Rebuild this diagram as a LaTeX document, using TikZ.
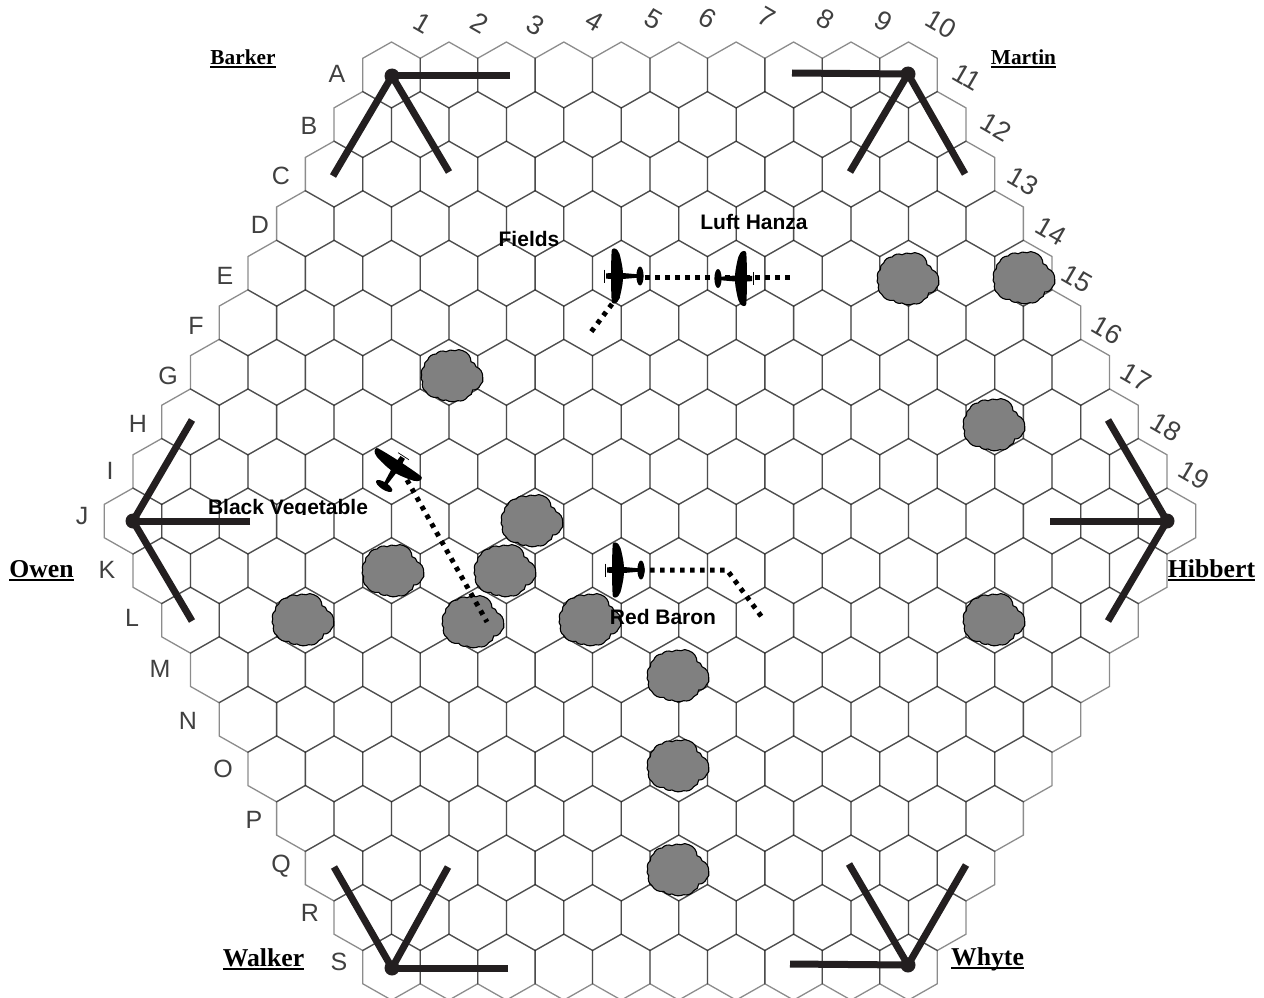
\documentclass[tikz,border=0pt]{standalone}
\usepackage{fontspec}
\setmainfont{Liberation Serif}
\newfontfamily\lsans{Liberation Sans}
\newcommand\undertext[3]{\setbox0\hbox{#3}\rlap{\rule[-#1]{\wd0}{#2}}\box0}
\definecolor{ink}{HTML}{231F20}
\definecolor{cloudgrey}{HTML}{808080}
\definecolor{mapgrey}{HTML}{404040}
\tikzset{
  x=1pt,y=-1pt,
  hexline/.style={draw=black,draw opacity=.45,line width=1.3pt,line join=miter},
  arm/.style={draw=ink,line width=7pt},
  hubdot/.style={fill=ink},
  dotted path/.style={draw=black,line width=5pt,dash pattern=on 4.5pt off 5.5pt},
  rowletter/.style={font=\lsans\fontsize{25}{25}\selectfont,text=mapgrey,inner sep=0pt},
  colnumber/.style={font=\lsans\fontsize{27}{27}\selectfont,text=mapgrey,rotate=-30,inner sep=0pt},
  small owner/.style={font=\fontsize{21.3}{22}\selectfont\bfseries,anchor=base,inner sep=0pt},
  big owner/.style={font=\fontsize{25.7}{26}\selectfont\bfseries,anchor=base,inner sep=0pt},
  pilot/.style={font=\lsans\fontsize{21}{22}\selectfont\bfseries,anchor=base,inner sep=0pt},
  cloud pic/.pic={
    \draw[fill=cloudgrey,draw=black,line width=1.1pt]
      (-27.7,-9.3) to[bend left=35] (-24.3,-16) to[bend left=35] (-16,-22)
      to[bend left=35] (-6,-24.3) to[bend left=25] (3,-25.3) to[bend left=30] (10.7,-25.3)
      to[bend left=35] (19,-14.3) to[bend left=35] (24,-9.3) to[bend left=35] (30.7,1.3)
      to[bend left=35] (28.3,9) to[bend left=35] (20.7,14) to[bend left=35] (15.7,20.7)
      to[bend left=35] (5.7,24.7) to[bend left=25] (-6,24) to[bend left=35] (-14.3,21.3)
      to[bend left=35] (-26,15.7) to[bend left=35] (-29.3,5.7) to[bend left=35] (-30.3,-1)
      to[bend left=35] cycle;
  },
  plane pic/.pic={
    \fill[black] plot[smooth cycle,tension=.6] coordinates
      {(-5.5,-22) (-4.5,-27) (-1,-27) (2.5,-22) (5.5,-8) (6,0) (5.5,8) (2.5,22) (-1,27) (-4.5,27) (-5.5,22) (-6,0)};
    \fill[black] (-11,-2.6) -- (0,-3.5) -- (22,-1.6) -- (22,1.6) -- (0,3.5) -- (-11,2.6) -- cycle;
    \fill[black] (23,0) ellipse [x radius=3.6,y radius=9.5];
    \draw[black,line width=.7pt] (-12.5,-6.5) -- (-12.5,6.5);
  },
}
\begin{document}
\begin{tikzpicture}
\useasboundingbox (0,0) rectangle (1264,998);
% hex field
\foreach \r in {0,...,18}{
  \pgfmathtruncatemacro\n{10+min(\r,18-\r)}
  \pgfmathsetmacro\y{75+49.56*\r}
  \pgfmathsetmacro\xs{650-(\n-1)*28.72}
  \foreach \c in {1,...,\n}{
    \pgfmathsetmacro\x{\xs+(\c-1)*57.44}
    \draw[hexline] (\x,\y-33) -- (\x+28.72,\y-16.7) -- (\x+28.72,\y+16.7) -- (\x,\y+33)
      -- (\x-28.72,\y+16.7) -- (\x-28.72,\y-16.7) -- cycle;
  }
}
% row letters
\foreach \t/\x/\y in {A/337/74,B/309/126,C/281/176,D/260/225,E/225/276,F/196/326,G/168/376,H/138/424,I/110/471,J/82/516,K/107/570,L/132/618,M/160/669,N/188/721,O/223/769,P/254/820,Q/281/866,R/310/913,S/339/962}
  \node[rowletter] (row\t) at (\x,\y) {\t};
% column numbers
\foreach \t/\x/\y in {1/423/23,2/480/23,3/536/25,4/595/21,5/654/19,6/708/18,7/767/17,8/826/19,9/884/21,10/941/24,11/967/77,12/996/127,13/1023/181,14/1051/231,15/1077/279,16/1107/330,17/1136/377,18/1166/427,19/1194/475}
  \node[colnumber] (col\t) at (\x,\y) {\t};
% clouds
\foreach \x/\y in {908/279,1024/278,452/376,994/425,532/521,393/571,505/571,303/620,473/622,590/620,994/620,678/676,678/766,678/870}
  \pic at (\x,\y) {cloud pic};
% firing arcs
\coordinate (hubB) at (392,76);  \coordinate (b1) at (510,76);  \coordinate (b2) at (333,176); \coordinate (b3) at (449,172);
\coordinate (hubM) at (908,74);  \coordinate (m1) at (792,73);  \coordinate (m2) at (850,172); \coordinate (m3) at (965,174);
\coordinate (hubO) at (133,521); \coordinate (o1) at (250,521); \coordinate (o2) at (192,420); \coordinate (o3) at (192,621);
\coordinate (hubH) at (1167,521);\coordinate (h1) at (1050,521);\coordinate (h2) at (1108,420);\coordinate (h3) at (1108,621);
\coordinate (hubW) at (392,968); \coordinate (w1) at (508,968); \coordinate (w2) at (334,867); \coordinate (w3) at (448,867);
\coordinate (hubY) at (908,965); \coordinate (y1) at (790,964); \coordinate (y2) at (849,864); \coordinate (y3) at (966,865);
\foreach \h/\e in {B/b,M/m,O/o,H/h,W/w,Y/y}{
  \draw[arm] (\e1) -- (hub\h);
  \draw[arm] (\e2) -- (hub\h);
  \draw[arm] (\e3) -- (hub\h);
  \fill[hubdot] (hub\h) circle (7.5);
}
% flight paths
\coordinate (fA) at (618,296); \coordinate (fB) at (588,336);
\coordinate (fC) at (645,277); \coordinate (fD) at (795,277);
\coordinate (rA) at (640,570); \coordinate (rB) at (727,570); \coordinate (rC) at (764,620);
\coordinate (vA) at (407,480); \coordinate (vB) at (487,622);
\draw[dotted path] (fA) -- (fB);
\draw[dotted path] (fC) -- (fD);
\draw[dotted path] (rA) -- (rB) -- (rC);
\draw[dotted path] (vA) -- (vB);
% aeroplanes
\pic at (617,276) {plane pic};
\pic[xscale=-1] at (741,278.5) {plane pic};
\pic at (618,570) {plane pic};
\pic[rotate=-123] at (396.7,466.7) {plane pic};
% pilots
\node[pilot] (fields) at (529,246) {Fields};
\node[pilot] (luft) at (754,229) {Luft Hanza};
\node[pilot] (baron) at (663,624) {Red Baron};
\begin{scope}
  \clip (180,480) rectangle (400,514);
  \node[pilot] (vegetable) at (288,514.5) {Black Vegetable};
\end{scope}
% players
\node[small owner] (barker) at (243,65) {\undertext{3pt}{1.7pt}{Barker}};
\node[small owner] (martin) at (1023.5,65) {\undertext{3pt}{1.7pt}{Martin}};
\node[big owner] (owen) at (41.5,577) {\undertext{3.6pt}{2pt}{Owen}};
\node[big owner] (hibbert) at (1211.5,577) {\undertext{3.6pt}{2pt}{Hibbert}};
\node[big owner] (walker) at (263.5,966) {\undertext{3.6pt}{2pt}{Walker}};
\node[big owner] (whyte) at (987.5,965) {\undertext{3.6pt}{2pt}{Whyte}};
\end{tikzpicture}
\end{document}
